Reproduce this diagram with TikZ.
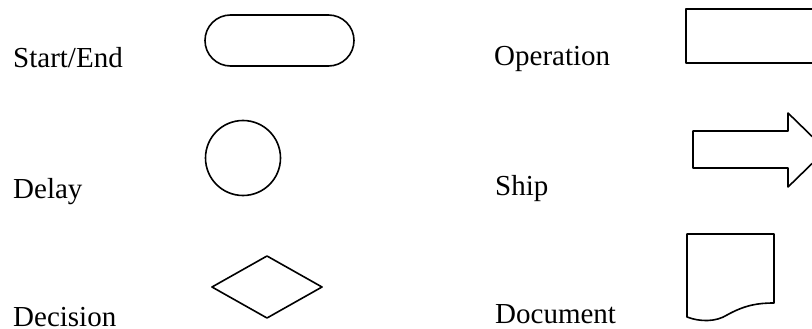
\documentclass[tikz,border=0pt]{standalone}
\usepackage{fontspec}
\setmainfont{Liberation Serif}
\begin{document}
\begin{tikzpicture}[x=1pt,y=-1pt,
  symbol/.style={draw=black, line width=1.6pt, line join=round},
  caption/.style={anchor=base west, inner sep=0pt, font=\fontsize{29}{34}\selectfont}]
\useasboundingbox (0,0) rectangle (812,329);
\clip (0,0) rectangle (812,329);

% labels
\node[caption] (lstart) at (13,68) {Start/End};
\node[caption] (ldelay) at (13,198) {Delay};
\node[caption] (ldec)   at (13,326) {Decision};
\node[caption] (lop)    at (494,66) {Operation};
\node[caption] (lship)  at (495,195) {Ship};
\node[caption] (ldoc)   at (495,323) {Document};

% start/end terminator
\draw[symbol, rounded corners=25.5pt] (205,15) rectangle (354,66);

% delay
\draw[symbol] (243,158) circle[radius=37.5];

% decision
\draw[symbol] (212,287) -- (267,256) -- (322,287) -- (267,318) -- cycle;

% operation
\draw[symbol] (686,9) rectangle (840,63);

% ship
\draw[symbol] (693,131) -- (788,131) -- (788,113) -- (826,150)
  -- (788,187) -- (788,168) -- (693,168) -- cycle;

% document
\draw[symbol] (687,317) -- (687,234) -- (774,234) -- (774,303)
  .. controls (758,303) and (745,305) .. (727,315)
  .. controls (716,322) and (700,322) .. (687,317) -- cycle;
\end{tikzpicture}
\end{document}
